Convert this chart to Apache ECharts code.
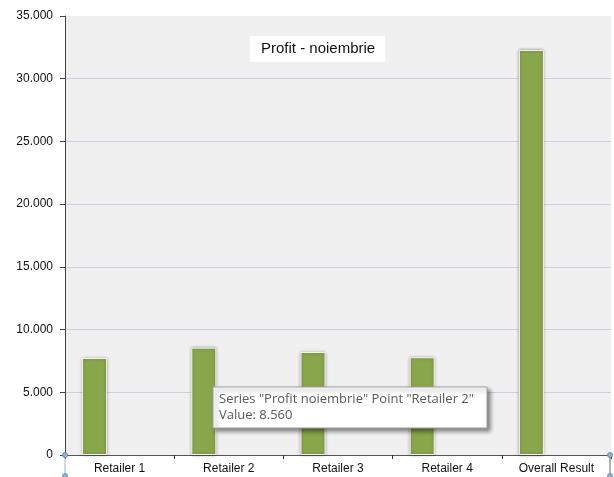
<!DOCTYPE html>
<html>
<head>
<meta charset="utf-8">
<script src="https://cdn.jsdelivr.net/npm/echarts@6/dist/echarts.min.js"></script>
<style>
html,body{margin:0;padding:0;background:#fff;}
#chart{width:614px;height:477px;}
</style>
</head>
<body>
<div id="chart"></div>
<script>
const categories = ['Retailer 1', 'Retailer 2', 'Retailer 3', 'Retailer 4', 'Overall Result'];
const profitValues = [7730, 8560, 8210, 7790, 32290];
const seriesName = 'Profit noiembrie';
const chartTitle = 'Profit - noiembrie';
const yTicks = [0, 5000, 10000, 15000, 20000, 25000, 30000, 35000];
const tooltipIndex = 1;

function fmt(v) {
  return String(v).replace(/\B(?=(\d{3})+(?!\d))/g, '.');
}

const chart = echarts.init(document.getElementById('chart'), null, {renderer: 'canvas'});
const gridLeft = 65, gridTop = 16, gridRight = 3, gridBottom = 22;
const splitColors = yTicks.map((t, i) => i === yTicks.length - 1 ? 'rgba(0,0,0,0)' : '#c9d1e0');

const option = {
  animation: false,
  backgroundColor: '#ffffff',
  title: {
    text: chartTitle,
    left: 250,
    top: 36,
    padding: [5, 10, 6, 11],
    backgroundColor: '#ffffff',
    textStyle: {fontFamily: 'Liberation Sans, Arial', fontSize: 15, fontWeight: 'normal', color: '#111'}
  },
  grid: {left: gridLeft, right: gridRight, top: gridTop, bottom: gridBottom, show: true, backgroundColor: '#f0f0f0', borderWidth: 0},
  xAxis: {
    type: 'category',
    data: categories,
    axisLine: {lineStyle: {color: '#555', width: 1}},
    axisTick: {show: true, length: 4, lineStyle: {color: '#333'}},
    axisLabel: {fontFamily: 'Liberation Sans, Arial', fontSize: 12, color: '#111', margin: 8}
  },
  yAxis: {
    type: 'value',
    min: yTicks[0],
    max: yTicks[yTicks.length - 1],
    interval: yTicks[1] - yTicks[0],
    axisLine: {show: true, lineStyle: {color: '#444', width: 1}},
    axisTick: {show: true, length: 5, lineStyle: {color: '#444'}},
    axisLabel: {fontFamily: 'Liberation Sans, Arial', fontSize: 12, color: '#111', margin: 12, formatter: v => fmt(v)},
    splitLine: {lineStyle: {color: splitColors, width: 1}}
  },
  series: [
    {
      name: seriesName,
      type: 'bar',
      data: profitValues,
      barWidth: 25,
      barGap: '100%',
      itemStyle: {color: '#8aa64b', borderColor: '#f4f4f4', borderWidth: 1, shadowColor: 'rgba(0,0,0,0.35)', shadowBlur: 3, shadowOffsetX: 0, shadowOffsetY: 0}
    },
    {
      name: 'empty',
      type: 'bar',
      data: categories.map(() => null),
      barWidth: 25
    }
  ]
};
chart.setOption(option);

const W = 614, H = 477;
const x0 = gridLeft, x1 = W - gridRight, yb = H - gridBottom;
const handle = (cx, cy) => ({type: 'circle', shape: {cx: cx, cy: cy, r: 2.5}, style: {fill: '#8fb0d8', stroke: '#5b82b5', lineWidth: 0.8}, z: 101});
chart.setOption({
  graphic: [
    {type: 'line', shape: {x1: x0, y1: yb, x2: x0, y2: H - 1}, style: {stroke: '#9fb3cc', lineWidth: 1}, z: 100},
    {type: 'line', shape: {x1: x1 - 1, y1: yb, x2: x1 - 1, y2: H - 1}, style: {stroke: '#666', lineWidth: 1}, z: 100},
    handle(x0, yb), handle(x0, H - 1), handle(x1 - 1, yb), handle(x1 - 1, H - 1),
    {type: 'rect', z: 200, shape: {x: 213, y: 387, width: 274, height: 41}, style: {fill: '#ffffff', stroke: '#a0a0a0', lineWidth: 1, shadowColor: 'rgba(0,0,0,0.45)', shadowBlur: 4, shadowOffsetX: 3, shadowOffsetY: 3}},
    {type: 'text', z: 201, x: 219, y: 391, style: {text: 'Series "' + seriesName + '" Point "' + categories[tooltipIndex] + '"\nValue: ' + fmt(profitValues[tooltipIndex]), fill: '#585858', fontFamily: 'Open Sans, Noto Sans', fontSize: 13, lineHeight: 16.5}}
  ]
});
</script>
</body>
</html>
